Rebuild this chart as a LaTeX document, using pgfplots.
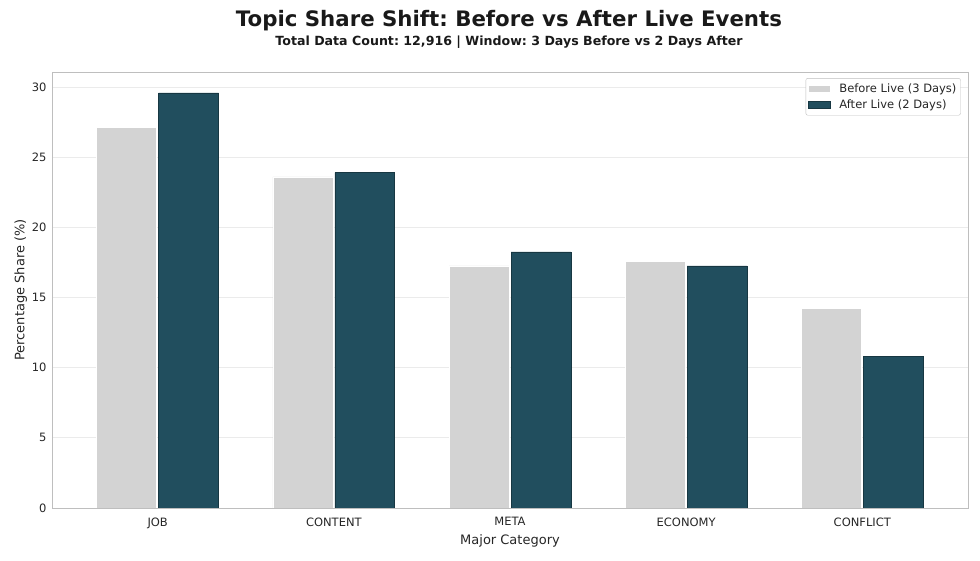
\documentclass[border=0pt]{standalone}
\usepackage{fontspec}
\setmainfont{DejaVu Sans}
\usepackage{pgfplots}
\pgfplotsset{compat=1.18}
\frenchspacing
\definecolor{beforec}{RGB}{211,211,211}
\definecolor{afterc}{RGB}{33,78,94}
\definecolor{gridc}{RGB}{235,235,235}
\definecolor{framec}{RGB}{190,190,190}
\begin{document}
\begin{tikzpicture}
\path[use as bounding box] (-52pt,-52pt) rectangle (928pt,508pt);
\begin{axis}[
    at={(0,0)}, anchor=south west,
    scale only axis, width=916pt, height=436pt,
    ybar, bar width=0.34,
    xmin=-0.6, xmax=4.6, ymin=0, ymax=31.07,
    xtick=data,
    xticklabels={JOB,CONTENT,META,ECONOMY,CONFLICT},
    ytick={0,5,10,15,20,25,30},
    ymajorgrids, major grid style={gridc, line width=0.8pt},
    axis line style={framec, line width=0.8pt},
    major tick length=0pt,
    /pgf/number format/assume math mode=true,
    tick label style={font=\fontsize{11.5}{13}\selectfont, text=black!85},
    xticklabel style={yshift=-6pt},
    yticklabel style={xshift=-2pt},
    xlabel={Major Category}, ylabel={Percentage Share (\%)},
    label style={font=\fontsize{13}{15}\selectfont, text=black!85},
    xlabel style={yshift=1pt},
    ylabel style={yshift=-2pt},
    legend style={at={(0.992,0.986)}, anchor=north east,
        draw=framec, rounded corners=2pt,
        font=\fontsize{11.5}{14}\selectfont, text=black!85,
        inner xsep=2pt, inner ysep=3pt, row sep=2.5pt,
        /tikz/every odd column/.append style={column sep=7pt},
        cells={anchor=west}},
    legend image code/.code={\draw[#1, sharp corners] (0pt,-3.5pt) rectangle (22pt,3.5pt);},
]
\addplot[fill=beforec, draw=white, line width=0.5pt, bar shift=-0.176]
  coordinates {(0,27.15) (1,23.6) (2,17.25) (3,17.55) (4,14.25)};
\addplot[fill=afterc, draw=afterc!70!black, line width=0.6pt, bar shift=0.176]
  coordinates {(0,29.58) (1,23.9) (2,18.25) (3,17.25) (4,10.83)};
\legend{Before Live (3 Days), After Live (2 Days)}
\draw[framec, line width=0.8pt] (rel axis cs:0,0) -- (rel axis cs:1,0);
\end{axis}
\node[font=\fontsize{21.3}{25}\selectfont\bfseries, text=black!90] at (457pt,487pt) {Topic Share Shift: Before vs After Live Events};
\node[font=\fontsize{12.6}{15}\selectfont\bfseries, text=black!90] at (457pt,466pt) {Total Data Count: 12,916 | Window: 3 Days Before vs 2 Days After};
\end{tikzpicture}
\end{document}
